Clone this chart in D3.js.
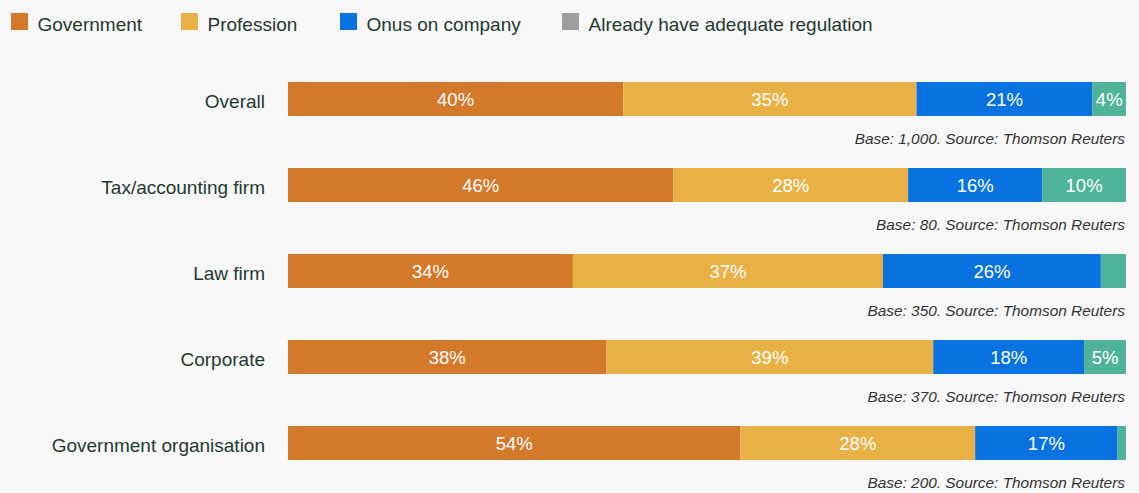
<!DOCTYPE html>
<html>
<head>
<meta charset="utf-8">
<script src="https://cdn.jsdelivr.net/npm/d3@7"></script>
<style>
  html, body { margin: 0; padding: 0; background: #f7f7f7; }
  svg { display: block; }
</style>
</head>
<body>
<svg id="chart" width="1139" height="493"></svg>
<script>
// Who should regulate — share of respondents by organisation type (%)
const categories = ["Overall", "Tax/accounting firm", "Law firm", "Corporate", "Government organisation"];
const seriesNames = ["Government", "Profession", "Onus on company", "Already have adequate regulation"];
const government = [40, 46, 34, 38, 54];
const profession = [35, 28, 37, 39, 28];
const onusOnCompany = [21, 16, 26, 18, 17];
const adequateRegulation = [4, 10, 3, 5, 1];
const baseSizes = ["1,000", "80", "350", "370", "200"];
const barColors = ["#d4782a", "#e9b046", "#0873e0", "#4fb39a"];
const legendColors = ["#d4782a", "#e9b046", "#0873e0", "#9e9e9e"];

const rows = categories.map((c, i) => ({
  category: c,
  base: baseSizes[i],
  [seriesNames[0]]: government[i],
  [seriesNames[1]]: profession[i],
  [seriesNames[2]]: onusOnCompany[i],
  [seriesNames[3]]: adequateRegulation[i]
}));

const svg = d3.select("#chart");
const textColor = "#1f3a2f";
const font = "'Liberation Sans', Arial, Helvetica, sans-serif";

const x = d3.scaleLinear().domain([0, 100]).range([288, 1126]);
const y = d3.scaleBand().domain(categories).range([82, 82 + 86 * 5 - 52])
  .paddingInner(52 / 86).paddingOuter(0);
const barColor = d3.scaleOrdinal().domain(seriesNames).range(barColors);

const stacked = d3.stack().keys(seriesNames)(rows);

// Stacked bars
const layers = svg.append("g").selectAll("g")
  .data(stacked).join("g")
  .attr("fill", d => barColor(d.key));

layers.selectAll("rect")
  .data(d => d.map(s => ({ key: d.key, s })))
  .join("rect")
  .attr("x", d => x(d.s[0]))
  .attr("y", d => y(d.s.data.category))
  .attr("width", d => x(d.s[1]) - x(d.s[0]))
  .attr("height", y.bandwidth());

// Segment value labels (skipped where the segment is too narrow)
layers.selectAll("text")
  .data(d => d.map(s => ({ key: d.key, s })).filter(d => d.s[1] - d.s[0] >= 4))
  .join("text")
  .attr("x", d => (x(d.s[0]) + x(d.s[1])) / 2)
  .attr("y", d => y(d.s.data.category) + y.bandwidth() / 2 + 7.3)
  .attr("text-anchor", "middle")
  .attr("fill", "#ffffff")
  .style("font-family", font)
  .style("font-size", "18.5px")
  .text(d => (d.s[1] - d.s[0]) + "%");

// Category labels
svg.append("g").selectAll("text")
  .data(rows).join("text")
  .attr("x", 265)
  .attr("y", d => y(d.category) + y.bandwidth() / 2 + 8.7)
  .attr("text-anchor", "end")
  .attr("fill", textColor)
  .style("font-family", font)
  .style("font-size", "19px")
  .text(d => d.category);

// Base / source notes under each bar
svg.append("g").selectAll("text")
  .data(rows).join("text")
  .attr("x", 1125)
  .attr("y", d => y(d.category) + y.bandwidth() + 27.5)
  .attr("text-anchor", "end")
  .attr("fill", "#333333")
  .style("font-family", font)
  .style("font-style", "italic")
  .style("font-size", "15.4px")
  .text(d => `Base: ${d.base}. Source: Thomson Reuters`);

// Legend
const legendX = [11, 181, 340, 562];
const legend = svg.append("g").selectAll("g")
  .data(seriesNames).join("g")
  .attr("transform", (d, i) => `translate(${legendX[i]},13)`);
legend.append("rect")
  .attr("width", 17).attr("height", 17)
  .attr("fill", (d, i) => legendColors[i]);
legend.append("text")
  .attr("x", 26.5).attr("y", 18)
  .attr("fill", textColor)
  .style("font-family", font)
  .style("font-size", "19px")
  .text(d => d);
</script>
</body>
</html>
